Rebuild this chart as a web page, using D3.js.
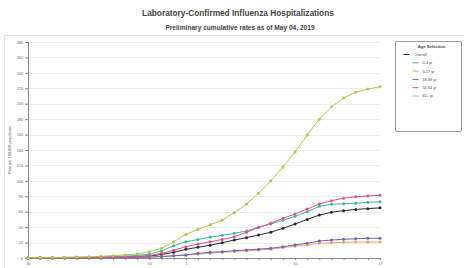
<!DOCTYPE html>
<html>
<head>
<meta charset="utf-8">
<script src="https://cdn.jsdelivr.net/npm/d3@7"></script>
<style>
  body { margin: 0; background: #fff; }
  text { font-family: "Liberation Sans", Arial, sans-serif; }
</style>
</head>
<body>
<div id="chart"></div>
<script>
//data
var weeks = [40,41,42,43,44,45,46,47,48,49,50,51,52,1,2,3,4,5,6,7,8,9,10,11,12,13,14,15,16,17];
var weekLabels = [40, 50, 1, 10, 17];
var yTicks = [0,20,40,60,80,100,120,140,160,180,200,220,240,260,280];

var overall = [0.1,0.2,0.3,0.4,0.5,0.6,0.8,1.0,1.3,1.8,2.6,4.5,7.3,11.2,13.9,16.5,19.8,23.3,26.4,29.8,33.3,38.5,44.0,50.0,55.7,59.3,61.4,63.0,64.0,65.0];
var age0to4 = [0.2,0.3,0.5,0.7,0.9,1.1,1.4,1.8,2.4,3.4,5.0,9.0,16.0,21.0,24.0,27.0,29.4,32.0,35.0,40.0,44.0,49.0,54.0,60.0,67.0,69.6,70.3,71.0,72.2,73.0];
var age5to17 = [0.05,0.1,0.15,0.2,0.3,0.4,0.5,0.6,0.8,1.0,1.4,2.0,3.0,4.0,5.0,6.3,7.3,8.3,9.3,10.3,11.3,13.5,15.3,16.9,19.0,19.8,20.4,20.7,20.8,20.8];
var age18to49 = [0.05,0.1,0.15,0.2,0.25,0.3,0.4,0.5,0.6,0.8,1.1,1.8,2.8,3.9,6.0,7.4,8.2,9.5,10.4,11.5,12.6,14.5,17.0,19.0,22.0,23.3,24.2,25.0,25.5,25.6];
var age50to64 = [0.1,0.2,0.3,0.4,0.5,0.6,0.8,1.0,1.4,2.0,3.0,6.0,10.0,14.7,18.0,21.0,24.0,27.6,33.5,39.5,45.0,51.5,57.0,63.5,70.0,74.3,77.4,79.5,80.4,81.3];
var age65plus = [0.2,0.4,0.6,0.9,1.2,1.6,2.2,3.0,4.0,5.2,8.0,12.5,21.0,30.5,37.0,43.0,49.0,58.8,70.0,84.0,100.0,118.0,137.5,159.5,180.0,196.0,207.5,215.0,219.0,222.0];

var seriesNames = ["Overall", "0-4 yr", "5-17 yr", "18-49 yr", "50-64 yr", "65+ yr"];
var seriesValues = [overall, age0to4, age5to17, age18to49, age50to64, age65plus];
var seriesColors = ["#2b2b2b", "#3bb5a0", "#f2a46a", "#6d64b8", "#e4508a", "#abc84f"];

(function () {

  //margins
  var margin = { top: 42, left: 28, right: 84, bottom: 10 },
      height = 268 - margin.top - margin.bottom,
      width = 464 - margin.left - margin.right;

  var root = d3.select("#chart")
      .append("svg")
      .attr("width", 464)
      .attr("height", 268);

  //outer frame
  root.append("rect")
      .attr("x", 4.5).attr("y", 35.5)
      .attr("width", 470).attr("height", 240)
      .attr("fill", "none")
      .attr("stroke", "#e4e4e4");

  //titles
  root.append("text")
      .attr("x", 238).attr("y", 16)
      .attr("text-anchor", "middle")
      .attr("font-size", "8.3px")
      .attr("font-weight", "bold")
      .attr("fill", "#444")
      .text("Laboratory-Confirmed Influenza Hospitalizations");

  root.append("text")
      .attr("x", 240).attr("y", 30)
      .attr("text-anchor", "middle")
      .attr("font-size", "6.6px")
      .attr("font-weight", "bold")
      .attr("fill", "#444")
      .text("Preliminary cumulative rates as of May 04, 2019");

  var svg = root.append("g")
      .attr("transform", "translate(" + margin.left + "," + margin.top + ")");

  //scales
  var xPositionScale = d3.scalePoint()
    .domain(d3.range(weeks.length))
    .range([0, 352]);

  var yPositionScale = d3.scaleLinear()
    .domain([0, 280])
    .range([216, 0]);

  //grid
  svg.selectAll(".grid")
    .data(yTicks.slice(1))
    .enter().append("line")
    .attr("class", "grid")
    .attr("x1", 0)
    .attr("x2", 352)
    .attr("y1", function (d) { return Math.round(yPositionScale(d)) + 0.5; })
    .attr("y2", function (d) { return Math.round(yPositionScale(d)) + 0.5; })
    .attr("stroke", "#ececec");

  //yAxis
  var yAxis = d3.axisLeft(yPositionScale)
    .tickValues(yTicks)
    .tickSize(3)
    .tickPadding(2);
  var yG = svg.append("g")
    .attr("class", "axis y-axis")
    .call(yAxis);
  yG.selectAll("text").attr("font-size", "3.8px").attr("fill", "#666");
  yG.selectAll("line, path").attr("stroke", "#888");

  //xAxis
  var xAxis = d3.axisBottom(xPositionScale)
    .tickSize(2)
    .tickPadding(2)
    .tickFormat(function (i) {
      return weekLabels.indexOf(weeks[i]) >= 0 && !(weeks[i] === 40 && i > 0) ? weeks[i] : "";
    });
  var xG = svg.append("g")
    .attr("class", "axis x-axis")
    .attr("transform", "translate(0,216)")
    .call(xAxis);
  xG.selectAll("text").attr("font-size", "3.8px").attr("fill", "#666");
  xG.selectAll("line, path").attr("stroke", "#888");

  //y label
  root.append("text")
    .attr("transform", "translate(11,150) rotate(-90)")
    .attr("text-anchor", "middle")
    .attr("font-size", "3.8px")
    .attr("fill", "#555")
    .text("Rate per 100,000 population");

  //lines
  var line = d3.line()
    .x(function (d, i) { return xPositionScale(i); })
    .y(function (d) { return yPositionScale(d); });

  seriesValues.forEach(function (values, s) {
    svg.append("path")
      .datum(values)
      .attr("d", line)
      .attr("fill", "none")
      .attr("stroke", seriesColors[s])
      .attr("stroke-width", 1);

    svg.selectAll(".dot" + s)
      .data(values)
      .enter().append("circle")
      .attr("class", "dot" + s)
      .attr("r", 1.5)
      .attr("cx", function (d, i) { return xPositionScale(i); })
      .attr("cy", function (d) { return yPositionScale(d); })
      .attr("fill", seriesColors[s]);
  });

  //legend
  var legend = root.append("g")
    .attr("transform", "translate(395.5,41.5)");

  legend.append("rect")
    .attr("width", 66)
    .attr("height", 90)
    .attr("rx", 1.5)
    .attr("fill", "#fff")
    .attr("stroke", "#999");

  legend.append("text")
    .attr("x", 36).attr("y", 6)
    .attr("text-anchor", "middle")
    .attr("font-size", "4.2px")
    .attr("font-weight", "bold")
    .attr("fill", "#444")
    .text("Age Selection");

  var items = legend.selectAll(".item")
    .data(seriesNames)
    .enter().append("g")
    .attr("class", "item")
    .attr("transform", function (d, i) {
      return "translate(" + (i === 0 ? 8 : 17) + "," + (13 + i * 8.3) + ")";
    });

  items.append("line")
    .attr("x1", 0).attr("x2", 6)
    .attr("stroke", function (d, i) { return seriesColors[i]; })
    .attr("stroke-width", 1);

  items.append("text")
    .attr("x", function (d, i) { return i === 0 ? 11 : 10; })
    .attr("y", 1.4)
    .attr("font-size", "3.8px")
    .attr("fill", "#444")
    .text(function (d) { return d; });

})()
</script>
</body>
</html>
